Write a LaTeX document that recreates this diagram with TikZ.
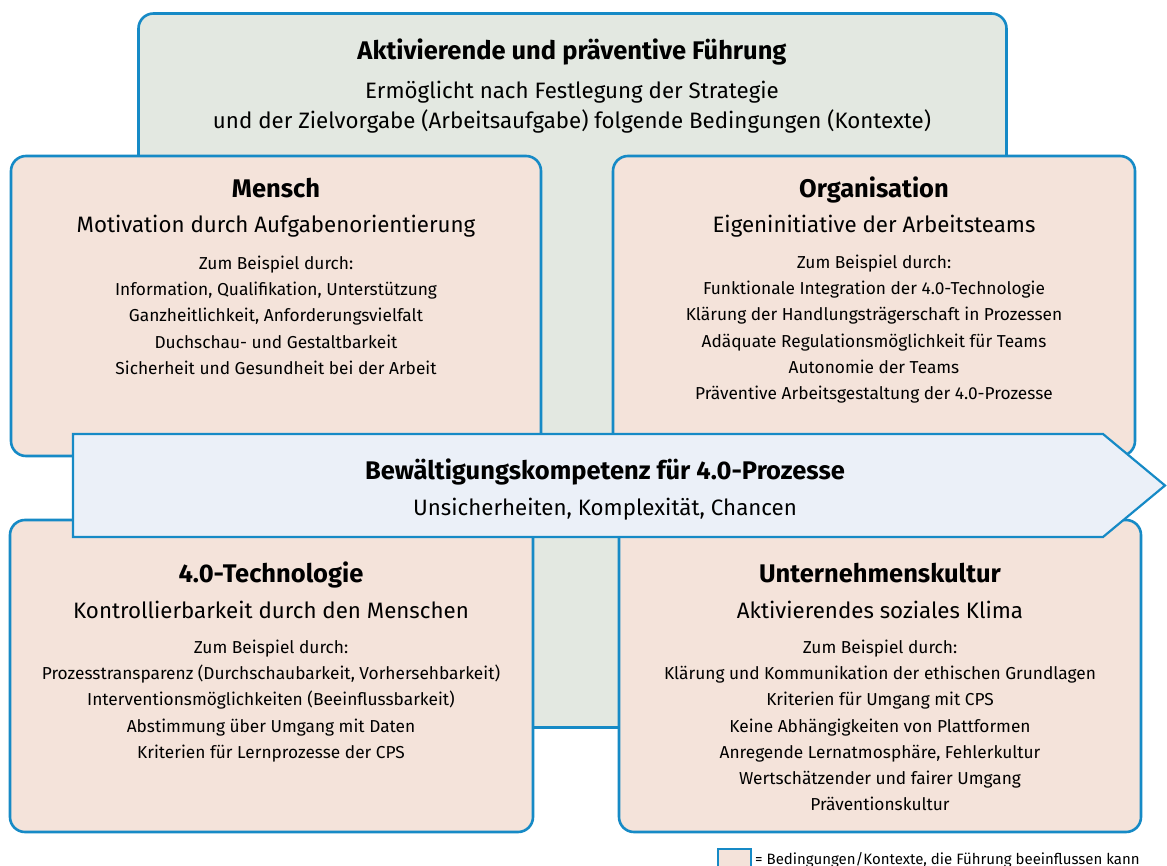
\documentclass[tikz,border=0pt]{standalone}
\usepackage{fontspec}
\setmainfont{Fira Sans}
\usepackage{xcolor}
\definecolor{rimblue}{RGB}{22,138,198}
\definecolor{leadgreen}{RGB}{227,232,225}
\definecolor{ctxrose}{RGB}{244,227,218}
\definecolor{arrowblue}{RGB}{235,240,248}

\begin{document}
\begin{tikzpicture}[x=1pt,y=-1pt,
    frame/.style={draw=rimblue,line width=2.6pt,rounded corners=15pt},
    ctx/.style={frame,fill=ctxrose},
    head/.style={font=\fontsize{25.5}{30}\selectfont\bfseries,anchor=base,inner sep=0pt},
    lead/.style={font=\fontsize{22.3}{30}\selectfont,anchor=base,inner sep=0pt,align=center},
    items/.style={font=\fontsize{17.3}{26.3}\selectfont,anchor=north,inner sep=0pt,align=center}]
    \useasboundingbox[fill=white] (0,0) rectangle (1167,866);

    % Fuehrung (background box)
    \node[frame,fill=leadgreen,minimum width=868pt,minimum height=714pt] (lead) at (572.5,370.5) {};
    \node[head] (leadhead) at (572,60) {Aktivierende und präventive Führung};
    \node[lead,anchor=north] (leadtext) at (572,81) {Ermöglicht nach Festlegung der Strategie\\und der Zielvorgabe (Arbeitsaufgabe) folgende Bedingungen (Kontexte)};

    % the four contexts
    \node[ctx,minimum width=530pt,minimum height=300pt] (mensch) at (276,306) {};
    \node[ctx,minimum width=522pt,minimum height=300pt] (orga) at (874,306) {};
    \node[ctx,minimum width=523pt,minimum height=312pt] (tech) at (271.5,676) {};
    \node[ctx,minimum width=522pt,minimum height=312pt] (kultur) at (880,676) {};

    \node[head] (menschhead) at (276,198) {Mensch};
    \node[lead] (menschlead) at (276,233) {Motivation durch Aufgabenorientierung};
    \node[items] (menschitems) at (276,255.5) {Zum Beispiel durch:\\Information, Qualifikation, Unterstützung\\Ganzheitlichkeit, Anforderungsvielfalt\\Duchschau- und Gestaltbarkeit\\Sicherheit und Gesundheit bei der Arbeit};

    \node[head] (orgahead) at (874,198) {Organisation};
    \node[lead] (orgalead) at (874,233) {Eigeninitiative der Arbeitsteams};
    \node[items] (orgaitems) at (874,254.5) {Zum Beispiel durch:\\Funktionale Integration der 4.0-Technologie\\Klärung der Handlungsträgerschaft in Prozessen\\Adäquate Regulationsmöglichkeit für Teams\\Autonomie der Teams\\Präventive Arbeitsgestaltung der 4.0-Prozesse};

    \node[head] (techhead) at (271,582) {4.0-Technologie};
    \node[lead] (techlead) at (271,618) {Kontrollierbarkeit durch den Menschen};
    \node[items] (techitems) at (271,639.5) {Zum Beispiel durch:\\Prozesstransparenz (Durchschaubarkeit, Vorhersehbarkeit)\\Interventionsmöglichkeiten (Beeinflussbarkeit)\\Abstimmung über Umgang mit Daten\\Kriterien für Lernprozesse der CPS};

    \node[head] (kulturhead) at (880,582) {Unternehmenskultur};
    \node[lead] (kulturlead) at (880,618) {Aktivierendes soziales Klima};
    \node[items] (kulturitems) at (880,639.5) {Zum Beispiel durch:\\Klärung und Kommunikation der ethischen Grundlagen\\Kriterien für Umgang mit CPS\\Keine Abhängigkeiten von Plattformen\\Anregende Lernatmosphäre, Fehlerkultur\\Wertschätzender und fairer Umgang\\Präventionskultur};

    % Bewaeltigungskompetenz
    \draw[draw=rimblue,line width=2.2pt,fill=arrowblue,line join=miter]
        (73,434) -- (1103,434) -- (1165,485.5) -- (1103,537) -- (73,537) -- cycle;
    \node[head] (copehead) at (605,479) {Bewältigungskompetenz für 4.0-Prozesse};
    \node[lead] (copelead) at (605,515) {Unsicherheiten, Komplexität, Chancen};

    % legend
    \node[draw=rimblue,line width=1.2pt,fill=ctxrose,minimum width=33pt,minimum height=26pt,inner sep=0pt] (keybox) at (734.5,862) {};
    \node[font=\fontsize{15}{17}\selectfont,anchor=base west,inner sep=0pt] (keytext) at (755,864) {= Bedingungen/Kontexte, die Führung beeinflussen kann};
\end{tikzpicture}
\end{document}
